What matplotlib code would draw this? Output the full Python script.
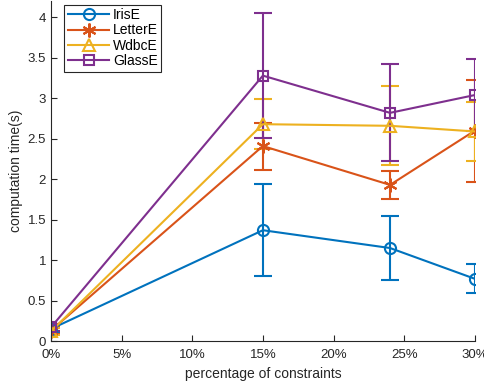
import matplotlib
matplotlib.use("Agg")
import matplotlib.pyplot as plt
from matplotlib.lines import Line2D

plt.rcParams['font.family'] = ['Liberation Sans', 'DejaVu Sans']

# percentage of constraints (%)
pct = [0, 15, 24, 30]
x_ticks = [0, 5, 10, 15, 20, 25, 30]
x_labels = ['0%', '5%', '10%', '15%', '20%', '25%', '30%']

# mean computation time (s) and error (+/-)
iris_mean = [0.15, 1.37, 1.15, 0.77]
iris_err = [0.04, 0.57, 0.40, 0.18]
letter_mean = [0.13, 2.41, 1.93, 2.60]
letter_err = [0.04, 0.29, 0.17, 0.63]
wdbc_mean = [0.12, 2.68, 2.66, 2.59]
wdbc_err = [0.04, 0.31, 0.49, 0.36]
glass_mean = [0.17, 3.28, 2.82, 3.04]
glass_err = [0.04, 0.77, 0.60, 0.45]

series = [
    ('IrisE', iris_mean, iris_err, '#0072BD', 'o', 8),
    ('LetterE', letter_mean, letter_err, '#D95319', (6, 2, 0), 10),
    ('WdbcE', wdbc_mean, wdbc_err, '#EDB120', '^', 8.5),
    ('GlassE', glass_mean, glass_err, '#7E2F8E', 's', 7.5),
]

fig = plt.figure(figsize=(4.85, 3.85), dpi=100)
ax = fig.add_axes([0.105, 0.114, 0.874, 0.883])

handles = []
for name, m, e, c, mk, ms in series:
    ax.errorbar(pct, m, yerr=e, color=c, marker=mk, markersize=ms,
                markerfacecolor='none', markeredgewidth=1.5, linewidth=1.5,
                elinewidth=1.5, capsize=6.5, capthick=1.5)
    # legend shows line + marker only (no error bar)
    handles.append(Line2D([], [], color=c, marker=mk, markersize=ms,
                          markerfacecolor='none', markeredgewidth=1.5,
                          linewidth=1.5, label=name))

ax.set_xlim(0, 30)
ax.set_ylim(0, 4.2)
ax.set_xticks(x_ticks)
ax.set_xticklabels(x_labels)
ax.set_yticks([0, 0.5, 1, 1.5, 2, 2.5, 3, 3.5, 4])
ax.set_yticklabels(['0', '0.5', '1', '1.5', '2', '2.5', '3', '3.5', '4'])
ax.tick_params(direction='in', labelsize=9.5, length=4, color='#262626', labelcolor='#262626')
ax.tick_params(axis='x', pad=6)
ax.spines['top'].set_visible(False)
ax.spines['right'].set_visible(False)
for s in ['left', 'bottom']:
    ax.spines[s].set_color('#262626')
ax.set_xlabel('percentage of constraints', fontsize=10, color='#262626', labelpad=4)
ax.set_ylabel('computation time(s)', fontsize=10, color='#262626', labelpad=3)

leg = ax.legend(handles=handles, loc='upper left', bbox_to_anchor=(0.025, 0.998),
                fontsize=10, fancybox=False, edgecolor='#262626', framealpha=1,
                handlelength=3.0, borderpad=0.25, labelspacing=0.1,
                handletextpad=0.25, borderaxespad=0.2)
leg.get_frame().set_linewidth(0.8)

fig.savefig('out.png', dpi=100)
